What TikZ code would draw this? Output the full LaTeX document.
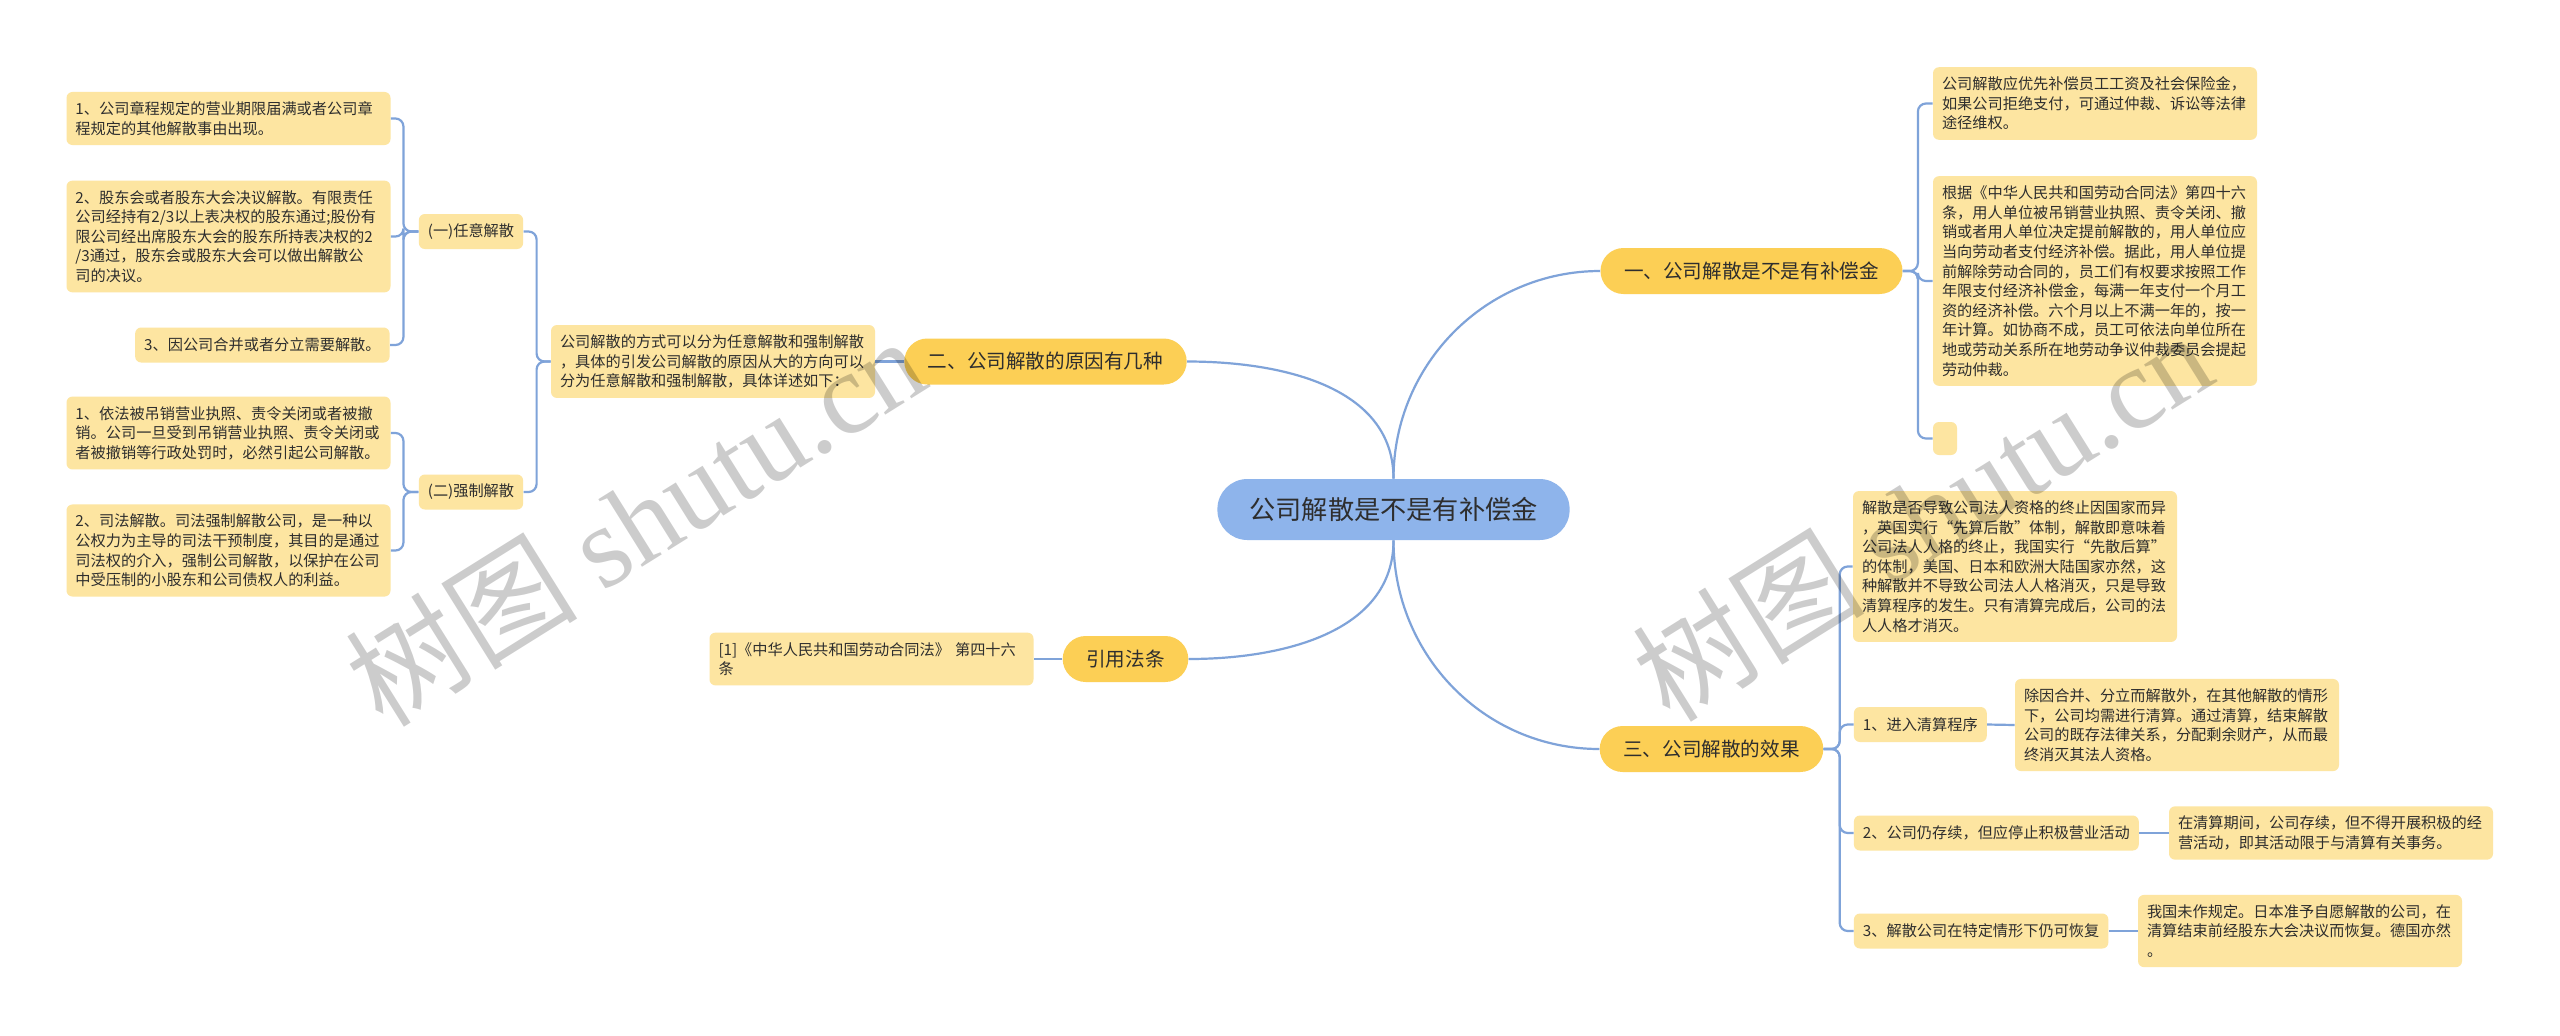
\documentclass[tikz,border=0pt]{standalone}
\usepackage{fontspec}
\setmainfont{Noto Sans CJK SC}
\newfontfamily\marklatin{Liberation Serif}
\usepackage{tikz}
\usetikzlibrary{positioning}
\usepackage{xcolor}

\definecolor{rootblue}{HTML}{8EB4EB}
\definecolor{mainyellow}{HTML}{FCCF55}
\definecolor{leafyellow}{HTML}{FDE5A1}
\definecolor{linkblue}{HTML}{7FA3D9}
\definecolor{inkgray}{HTML}{2E2E2E}

\newcommand{\leaffont}{\fontsize{7.6pt}{9.8pt}\selectfont}
\newcommand{\branchfont}{\fontsize{9.8pt}{12pt}\selectfont}
\newcommand{\topicfont}{\fontsize{13.1pt}{16pt}\selectfont}

\begin{document}
\begin{tikzpicture}[
    x=0.5pt, y=-0.5pt,
    leafbox/.style={rectangle, fill=leafyellow, rounded corners=3pt, inner xsep=4.5pt, inner ysep=4.8pt, text width=153pt, align=left, font=\leaffont, text=inkgray},
    tagbox/.style={rectangle, fill=leafyellow, rounded corners=3pt, inner xsep=4.5pt, inner ysep=0pt, minimum height=17.5pt, font=\leaffont, text=inkgray},
    branchbox/.style={rectangle, fill=mainyellow, rounded corners=11.5pt, inner xsep=11.8pt, inner ysep=0pt, minimum height=23pt, font=\branchfont, text=inkgray},
    topicbox/.style={rectangle, fill=rootblue, rounded corners=15pt, inner xsep=16pt, inner ysep=0pt, minimum height=30.5pt, font=\topicfont, text=inkgray},
    link/.style={draw=linkblue, line width=1.1pt, rounded corners=4pt},
    wmark/.style={rotate=32, font=\fontsize{58pt}{60pt}\selectfont, text=black, text opacity=0.2}
]

\fill[white] (0,0) rectangle (2560,1035);
\useasboundingbox (0,0) rectangle (2560,1035);

% Centre
\node[topicbox] (root) at (1393.5,509.5) {公司解散是不是有补偿金};

% Left: causes
\node[branchbox] (two) at (1045.5,361.5) {二、公司解散的原因有几种};
\node[leafbox] (why) at (713,361.5) {公司解散的方式可以分为任意解散和强制解散\\，具体的引发公司解散的原因从大的方向可以\\分为任意解散和强制解散，具体详述如下：};
\node[tagbox] (sub1) at (471,231.5) {(一)任意解散};
\node[tagbox] (sub2) at (471,492) {(二)强制解散};
\node[leafbox] (a1) at (228.5,118.5) {1、公司章程规定的营业期限届满或者公司章\\程规定的其他解散事由出现。};
\node[leafbox] (a2) at (228.5,236.5) {2、股东会或者股东大会决议解散。有限责任\\公司经持有2/3以上表决权的股东通过;股份有\\限公司经出席股东大会的股东所持表决权的2\\/3通过，股东会或股东大会可以做出解散公\\司的决议。};
\node[tagbox, anchor=east] (a3) at (390,345) {3、因公司合并或者分立需要解散。};
\node[leafbox] (b1) at (228.5,433) {1、依法被吊销营业执照、责令关闭或者被撤\\销。公司一旦受到吊销营业执照、责令关闭或\\者被撤销等行政处罚时，必然引起公司解散。};
\node[leafbox] (b2) at (228.5,550.5) {2、司法解散。司法强制解散公司，是一种以\\公权力为主导的司法干预制度，其目的是通过\\司法权的介入，强制公司解散，以保护在公司\\中受压制的小股东和公司债权人的利益。};

% Left: law
\node[branchbox] (law) at (1125.5,659) {引用法条};
\node[leafbox] (cite) at (871.5,659) {[1]《中华人民共和国劳动合同法》 第四十六\\条};

% Right: compensation
\node[branchbox] (one) at (1751.5,271) {一、公司解散是不是有补偿金};
\node[leafbox] (c1) at (2095,103.5) {公司解散应优先补偿员工工资及社会保险金，\\如果公司拒绝支付，可通过仲裁、诉讼等法律\\途径维权。};
\node[leafbox] (c2) at (2095,281) {根据《中华人民共和国劳动合同法》第四十六\\条，用人单位被吊销营业执照、责令关闭、撤\\销或者用人单位决定提前解散的，用人单位应\\当向劳动者支付经济补偿。据此，用人单位提\\前解除劳动合同的，员工们有权要求按照工作\\年限支付经济补偿金，每满一年支付一个月工\\资的经济补偿。六个月以上不满一年的，按一\\年计算。如协商不成，员工可依法向单位所在\\地或劳动关系所在地劳动争议仲裁委员会提起\\劳动仲裁。};
\node[tagbox, minimum width=12pt, minimum height=16.5pt, inner xsep=0pt] (c3) at (1945,438.5) {};

% Right: effects
\node[branchbox] (three) at (1711.5,749) {三、公司解散的效果};
\node[leafbox] (d0) at (2015,566.5) {解散是否导致公司法人资格的终止因国家而异\\，英国实行“先算后散”体制，解散即意味着\\公司法人人格的终止，我国实行“先散后算”\\的体制，美国、日本和欧洲大陆国家亦然，这\\种解散并不导致公司法人人格消灭，只是导致\\清算程序的发生。只有清算完成后，公司的法\\人人格才消灭。};
\node[tagbox, anchor=west] (e1) at (1853.5,724.5) {1、进入清算程序};
\node[leafbox] (f1) at (2177,725) {除因合并、分立而解散外，在其他解散的情形\\下，公司均需进行清算。通过清算，结束解散\\公司的既存法律关系，分配剩余财产，从而最\\终消灭其法人资格。};
\node[tagbox, anchor=west] (e2) at (1853.5,833) {2、公司仍存续，但应停止积极营业活动};
\node[leafbox] (f2) at (2331,833) {在清算期间，公司存续，但不得开展积极的经\\营活动，即其活动限于与清算有关事务。};
\node[tagbox, anchor=west] (e3) at (1853.5,931) {3、解散公司在特定情形下仍可恢复};
\node[leafbox] (f3) at (2300,931) {我国未作规定。日本准予自愿解散的公司，在\\清算结束前经股东大会决议而恢复。德国亦然\\。};

% Links from the centre
\draw[link] (root.north) to[out=90,in=180] (one.west);
\draw[link] (root.north) to[out=90,in=0] (two.east);
\draw[link] (root.south) to[out=-90,in=0] (law.east);
\draw[link] (root.south) to[out=-90,in=180] (three.west);

% Links, left
\draw[link] (two.west) -- (why.east);
\draw[link] (why.west) -- ++(-14,0) |- (sub1.east);
\draw[link] (why.west) -- ++(-14,0) |- (sub2.east);
\draw[link] (sub1.west) -- ++(-15,0) |- (a1.east);
\draw[link] (sub1.west) -- ++(-15,0) |- (a2.east);
\draw[link] (sub1.west) -- ++(-15,0) |- (a3.east);
\draw[link] (sub2.west) -- ++(-15,0) |- (b1.east);
\draw[link] (sub2.west) -- ++(-15,0) |- (b2.east);
\draw[link] (law.west) -- (cite.east);

% Links, right
\draw[link] (one.east) -- ++(15,0) |- (c1.west);
\draw[link] (one.east) -- ++(15,0) |- (c2.west);
\draw[link] (one.east) -- ++(15,0) |- (c3.west);
\draw[link] (three.east) -- ++(16,0) |- (d0.west);
\draw[link] (three.east) -- ++(16,0) |- (e1.west);
\draw[link] (three.east) -- ++(16,0) |- (e2.west);
\draw[link] (three.east) -- ++(16,0) |- (e3.west);
\draw[link] (e1.east) -- (f1.west);
\draw[link] (e2.east) -- (f2.west);
\draw[link] (e3.east) -- (f3.west);

% Watermarks
\node[wmark] (wm1) at (635,520) {树图 {\marklatin shutu.cn}};
\node[wmark] (wm2) at (1922,515) {树图 {\marklatin shutu.cn}};

\end{tikzpicture}
\end{document}
